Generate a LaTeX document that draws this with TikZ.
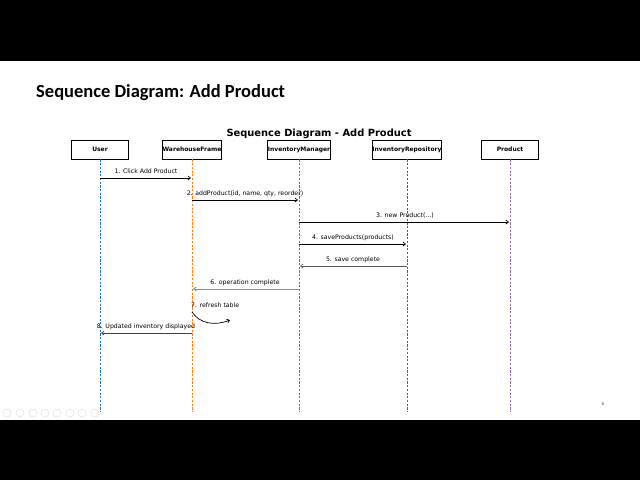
\documentclass[tikz,border=0pt]{standalone}
\usepackage{fontspec}
\setmainfont{Carlito}
\newfontfamily\dvs{DejaVu Sans}
\usetikzlibrary{arrows.meta}
\definecolor{llblue}{RGB}{31,119,180}
\definecolor{llorange}{RGB}{255,127,14}
\definecolor{llgreen}{RGB}{44,160,44}
\definecolor{llred}{RGB}{214,39,40}
\definecolor{llpurple}{RGB}{148,103,189}
\tikzset{
  actor/.style={draw=black, line width=0.8pt, fill=white, minimum width=57pt, minimum height=19pt, inner sep=0pt, font=\dvs\bfseries\fontsize{6.0}{7}\selectfont},
  life/.style={line width=0.75pt, dash pattern=on 2.2pt off 1.5pt},
  msg/.style={line width=0.7pt, -{Straight Barb[length=2.5pt,width=4pt]}},
  ret/.style={msg, draw=black!65},
  lbl/.style={font=\dvs\fontsize{6.2}{7}\selectfont, inner sep=0pt, anchor=base},
  icon/.style={draw=black!15, line width=0.4pt, circle, minimum size=8pt, inner sep=0pt}
}
\begin{document}
\begin{tikzpicture}[x=1pt,y=-1pt]
\useasboundingbox (0,0) rectangle (640,480);
\fill[black] (0,0) rectangle (640,60.5);
\fill[black] (0,419.5) rectangle (640,480);
\node[anchor=base west, inner sep=0pt, font=\bfseries\fontsize{18.5}{20}\selectfont] (title) at (36,97) {Sequence Diagram: Add Product};
\node[inner sep=0pt, font=\dvs\bfseries\fontsize{9.9}{11}\selectfont] (sub) at (319,134) {Sequence Diagram - Add Product};
% actors
\node[actor] (u) at (100,149.5) {User};
\node[actor] (w) at (192,149.5) {WarehouseFrame};
\node[actor] (m) at (299,149.5) {InventoryManager};
\node[actor] (r) at (407,149.5) {InventoryRepository};
\node[actor] (p) at (510,149.5) {Product};
% lifeline ends
\coordinate (ue) at (100,412);
\coordinate (we) at (192,412);
\coordinate (me) at (299,412);
\coordinate (re) at (407,412);
\coordinate (pe) at (510,412);
\draw[life, draw=llblue] (u.south) -- (ue);
\draw[life, draw=llorange] (w.south) -- (we);
\draw[life, draw=llgreen] (m.south) -- (me);
\draw[life, draw=llred] (r.south) -- (re);
\draw[life, draw=llpurple] (p.south) -- (pe);
% messages
\coordinate (u1) at (100,178); \coordinate (w1) at (191,178);
\draw[msg] (u1) -- (w1);
\node[lbl] (l1) at (146,173) {1. Click Add Product};
\coordinate (w2) at (192,200); \coordinate (m2) at (298,200);
\draw[msg] (w2) -- (m2);
\node[lbl] (l2) at (245,195) {2. addProduct(id, name, qty, reorder)};
\coordinate (m3) at (299,222); \coordinate (p3) at (509,222);
\draw[msg] (m3) -- (p3);
\node[lbl] (l3) at (405,217) {3. new Product(...)};
\coordinate (m4) at (299,244); \coordinate (r4) at (406,244);
\draw[msg] (m4) -- (r4);
\node[lbl] (l4) at (353,239) {4. saveProducts(products)};
\coordinate (r5) at (407,266); \coordinate (m5) at (300,266);
\draw[ret] (r5) -- (m5);
\node[lbl] (l5) at (353,261) {5. save complete};
\coordinate (m6) at (299,289); \coordinate (w6) at (193,289);
\draw[ret, draw=black!45, line width=0.9pt] (m6) -- (w6);
\node[lbl] (l6) at (245,284) {6. operation complete};
\coordinate (w7) at (192,312); \coordinate (w7e) at (230,320);
\draw[msg] (w7) .. controls (200,324) and (215,326) .. (w7e);
\node[lbl, anchor=base west] (l7) at (191,307) {7. refresh table};
\coordinate (w8) at (192,333); \coordinate (u8) at (101,333);
\draw[ret, draw=black!75] (w8) -- (u8);
\node[lbl] (l8) at (146,328) {8. Updated inventory displayed};
% page number
\node[inner sep=0pt, font=\fontsize{5}{6}\selectfont, text=black!70] (pg) at (603,404) {6};
% slideshow controls
\foreach \i/\x in {1/7,2/20,3/33,4/45,5/57,6/70,7/82,8/95}{
  \node[icon] (ic\i) at (\x,413) {};
}
\end{tikzpicture}
\end{document}
